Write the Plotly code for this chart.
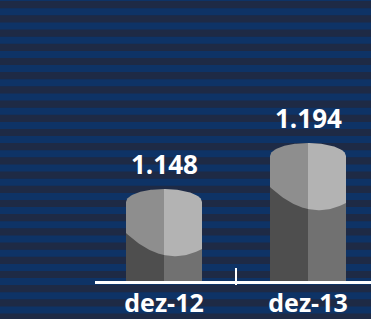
import numpy as np
import plotly.graph_objects as go

categories = ["dez-12", "dez-13"]
values = [1.148, 1.194]
value_labels = ["1.148", "1.194"]

W, H = 371, 319
ML, MR, MT, MB = 95, 0, 0, 38
PW, PH = W - ML - MR, H - MT - MB

X_RANGE = [-0.5 + 3 / 144, -0.5 + 279 / 144]
Y_RANGE = [1.056, 1.337]
px_x = (X_RANGE[1] - X_RANGE[0]) / PW
px_y = (Y_RANGE[1] - Y_RANGE[0]) / PH

BG_DARK = "#1e2a45"
BG_BLUE = "#0e3366"
UL, UR, LL, LR = "#8e8e8e", "#b3b3b3", "#4e4e4e", "#717171"

HALF = 38 * px_x
CAP = 13 * px_y
LOW_OFF = 31 * px_y

fig = go.Figure()


def poly(xs, ys, color):
    fig.add_trace(go.Scatter(x=list(xs) + [xs[0]], y=list(ys) + [ys[0]], mode="lines",
                             fill="toself", fillcolor=color, line=dict(width=0, color=color),
                             hoverinfo="skip", showlegend=False))


base = Y_RANGE[0]
for i, v in enumerate(values):
    xc = i
    edge = v - CAP
    tl = np.linspace(-1, 0, 30)
    tr = np.linspace(0, 1, 30)
    top = lambda t: edge + CAP * np.sqrt(np.clip(1 - t ** 2, 0, 1))
    low0 = edge - LOW_OFF
    low = lambda t: low0 - (22 + 8 * t - 14 * t ** 2) * px_y
    xs = np.concatenate([[xc - HALF], xc + tl * HALF, [xc]])
    ys = np.concatenate([[base], top(tl), [base]])
    poly(xs, ys, UL)
    xs = np.concatenate([[xc], xc + tr * HALF, [xc + HALF]])
    ys = np.concatenate([[base], top(tr), [base]])
    poly(xs, ys, UR)
    xs = np.concatenate([[xc - HALF], xc + tl * HALF, [xc]])
    ys = np.concatenate([[base], low(tl), [base]])
    poly(xs, ys, LL)
    xs = np.concatenate([[xc], xc + tr * HALF, [xc + HALF]])
    ys = np.concatenate([[base], low(tr), [base]])
    poly(xs, ys, LR)
    fig.add_annotation(x=xc, y=v, text=value_labels[i], showarrow=False, yanchor="bottom",
                       yshift=5, font=dict(family="Open Sans", size=26, color="white", weight="bold"))

shapes = []
period = 14.2
start = 8.3 - period
k = 0
while start + k * period < H:
    y0p = start + k * period
    y1p = y0p + 7
    shapes.append(dict(type="rect", xref="paper", yref="paper", layer="below",
                       x0=-ML / PW, x1=1.01,
                       y0=(PH - y1p) / PH, y1=(PH - y0p) / PH,
                       fillcolor=BG_BLUE, line=dict(width=0)))
    k += 1

shapes.append(dict(type="line", xref="x", yref="paper", x0=0.5, x1=0.5,
                   y0=(PH - 285) / PH, y1=(PH - 268) / PH, line=dict(color="white", width=2),
                   layer="above"))

fig.update_layout(
    width=W, height=H, margin=dict(l=ML, r=MR, t=MT, b=MB, autoexpand=False),
    paper_bgcolor=BG_DARK, plot_bgcolor="rgba(0,0,0,0)",
    shapes=shapes, showlegend=False,
    xaxis=dict(range=X_RANGE, showgrid=False, zeroline=False, showline=True, linecolor="white",
               linewidth=3, tickvals=[0, 1], ticktext=categories, ticks="", automargin=False,
               tickfont=dict(family="Open Sans", size=25, color="white", weight="bold"),
               ticklabelstandoff=-2, fixedrange=True),
    yaxis=dict(range=Y_RANGE, visible=False, fixedrange=True, automargin=False),
)

fig.write_html("out.html", config={"displayModeBar": False},
               post_script="document.body.style.margin='0';document.body.style.padding='0';"
                           "document.body.style.overflow='hidden';")
